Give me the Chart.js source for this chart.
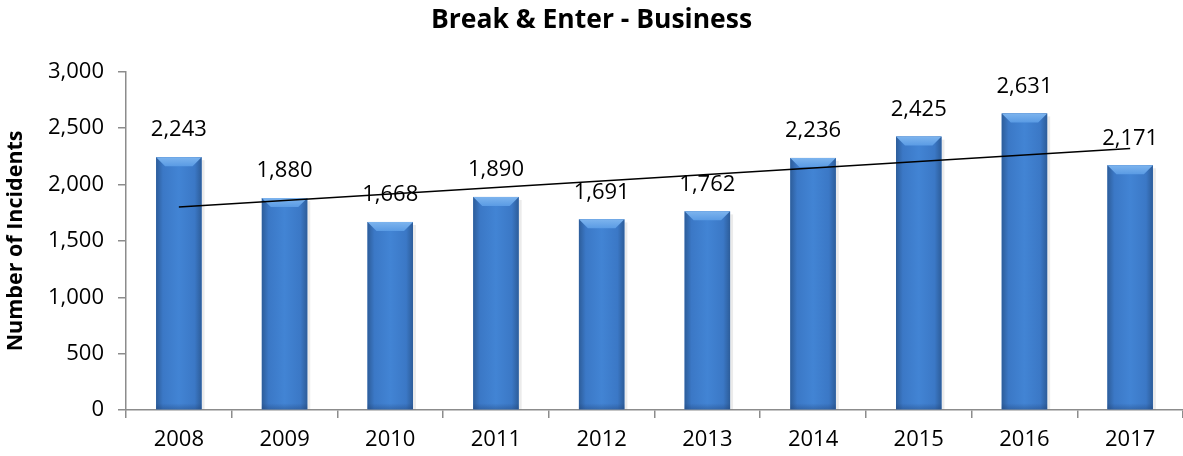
<!DOCTYPE html>
<html>
<head>
<meta charset="utf-8">
<title>Break & Enter - Business</title>
<script src="https://cdn.jsdelivr.net/npm/chart.js@4"></script>
<style>
  html, body { margin: 0; padding: 0; background: #ffffff; }
  #wrap { width: 1183px; height: 456px; }
</style>
</head>
<body>
<div id="wrap"><canvas id="incidentChart" width="1183" height="456"></canvas></div>
<script>
// yearly counts
const years = ["2008", "2009", "2010", "2011", "2012", "2013", "2014", "2015", "2016", "2017"];
const incidents = [2243, 1880, 1668, 1890, 1691, 1762, 2236, 2425, 2631, 2171];
// trend line, only the two end points are set
const trendValues = [1801, null, null, null, null, null, null, null, null, 2320];
const yTicks = [0, 500, 1000, 1500, 2000, 2500, 3000];

const FONT = "'Open Sans', Lato, sans-serif";
const AXIS_GREY = "#8c8c8c";

// ------------------- Helper Functions -------------------

// shaded bars with a bevelled top, drawn over the plain bar fill
const bevelBars = {
  id: "bevelBars",
  afterDatasetDraw(chart, args) {
    if (args.index !== 0) return;
    const ctx = chart.ctx;
    args.meta.data.forEach((bar) => {
      const w = bar.width;
      const left = bar.x - w / 2;
      const right = bar.x + w / 2;
      const top = bar.y;
      const bottom = bar.base;
      const bevel = 9;

      ctx.save();
      // soft shadow to the right
      ctx.fillStyle = "rgba(0, 0, 0, 0.08)";
      ctx.fillRect(right, top + 3, 3, bottom - top - 3);

      const body = ctx.createLinearGradient(left, 0, right, 0);
      body.addColorStop(0, "#2d5d9a");
      body.addColorStop(0.15, "#3b78c6");
      body.addColorStop(0.5, "#4284d4");
      body.addColorStop(0.85, "#3b78c6");
      body.addColorStop(1, "#2d5d9a");
      ctx.fillStyle = body;
      ctx.fillRect(left, top, w, bottom - top);

      // top face
      const face = ctx.createLinearGradient(0, top, 0, top + bevel);
      face.addColorStop(0, "#7db4ee");
      face.addColorStop(1, "#5a9be4");
      ctx.fillStyle = face;
      ctx.beginPath();
      ctx.moveTo(left, top);
      ctx.lineTo(right, top);
      ctx.lineTo(right - bevel, top + bevel);
      ctx.lineTo(left + bevel, top + bevel);
      ctx.closePath();
      ctx.fill();

      // darker foot
      const foot = ctx.createLinearGradient(0, bottom - 6, 0, bottom);
      foot.addColorStop(0, "rgba(30, 60, 110, 0)");
      foot.addColorStop(1, "rgba(30, 60, 110, 0.35)");
      ctx.fillStyle = foot;
      ctx.fillRect(left, bottom - 6, w, 6);
      ctx.restore();
    });
  },
};

// value labels above each bar
const valueLabels = {
  id: "valueLabels",
  afterDatasetsDraw(chart) {
    const ctx = chart.ctx;
    const meta = chart.getDatasetMeta(0);
    ctx.save();
    ctx.font = "22px " + FONT;
    ctx.fillStyle = "#000000";
    ctx.textAlign = "center";
    ctx.textBaseline = "middle";
    meta.data.forEach((bar, i) => {
      ctx.fillText(incidents[i].toLocaleString("en-US"), bar.x, bar.y - 27);
    });
    ctx.restore();
  },
};

function renderIncidentChart() {
  new Chart(document.getElementById("incidentChart"), {
    type: "bar",
    data: {
      labels: years,
      datasets: [
        {
          label: "Incidents",
          data: incidents,
          backgroundColor: "#3b78c4",
          borderWidth: 0,
          categoryPercentage: 1,
          barPercentage: 0.43,
          order: 2,
        },
        {
          type: "line",
          label: "Trend",
          data: trendValues,
          spanGaps: true,
          borderColor: "#000000",
          borderWidth: 1.5,
          pointRadius: 0,
          fill: false,
          tension: 0,
          order: 1,
        },
      ],
    },
    options: {
      responsive: false,
      animation: false,
      devicePixelRatio: 1,
      layout: { padding: { left: 0, right: 0, top: 0, bottom: 0 } },
      plugins: {
        legend: { display: false },
        tooltip: { enabled: false },
        title: {
          display: true,
          text: "Break & Enter - Business",
          color: "#000000",
          font: { family: FONT, size: 26.5, weight: "bold", lineHeight: 1.2 },
          padding: { top: 5, bottom: 35 },
        },
      },
      scales: {
        x: {
          offset: true,
          border: { color: AXIS_GREY, width: 1.5 },
          grid: { display: true, offset: true, drawOnChartArea: false, tickLength: 8, color: AXIS_GREY, lineWidth: 1.5 },
          ticks: { color: "#000000", font: { family: FONT, size: 22 }, padding: 9 },
          afterFit: (scale) => { scale.height = 46; },
        },
        y: {
          min: 0,
          max: 3000,
          afterBuildTicks: (scale) => { scale.ticks = yTicks.map((v) => ({ value: v })); },
          border: { color: AXIS_GREY, width: 1.5 },
          grid: { display: true, drawOnChartArea: false, tickLength: 8, color: AXIS_GREY, lineWidth: 1.5 },
          ticks: {
            color: "#000000",
            font: { family: FONT, size: 22 },
            padding: 14,
            callback: (v) => Number(v).toLocaleString("en-US"),
          },
          title: {
            display: true,
            text: "Number of Incidents",
            color: "#000000",
            font: { family: FONT, size: 21.5, weight: "bold" },
            padding: { top: 3, bottom: 0 },
          },
          afterFit: (scale) => { scale.width = 126; },
        },
      },
    },
    plugins: [bevelBars, valueLabels],
  });
}

renderIncidentChart();
</script>
</body>
</html>
